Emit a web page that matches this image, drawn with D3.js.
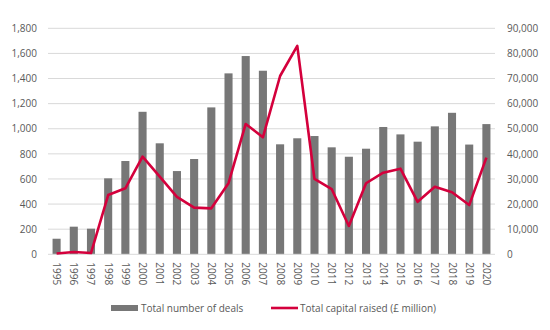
<!DOCTYPE html>
<html>
<head>
<meta charset="utf-8">
<script src="https://cdn.jsdelivr.net/npm/d3@7"></script>
<style>
  body { margin: 0; background: #fff; }
  text { font-family: "Open Sans", sans-serif; fill: #595959; }
</style>
</head>
<body>
<svg id="chart"></svg>
<script>
// deals per year and capital raised
var years = ["1995", "1996", "1997", "1998", "1999", "2000", "2001", "2002", "2003",
    "2004", "2005", "2006", "2007", "2008", "2009", "2010", "2011", "2012", "2013",
    "2014", "2015", "2016", "2017", "2018", "2019", "2020"];
var deals = [124, 220, 204, 605, 743, 1135, 884, 663, 759, 1170, 1441, 1579, 1462,
    876, 924, 942, 852, 777, 841, 1014, 955, 897, 1019, 1127, 874, 1037];
var capital = [300, 900, 500, 23600, 26300, 38900, 30900, 22900, 18600, 18300, 28300,
    51900, 46600, 71000, 83000, 30000, 26000, 11300, 28300, 32500, 34100, 20900,
    26900, 24700, 19600, 38500];
var leftTicks = [0, 200, 400, 600, 800, 1000, 1200, 1400, 1600, 1800];
var rightTicks = [0, 10000, 20000, 30000, 40000, 50000, 60000, 70000, 80000, 90000];
var legendLabels = ["Total number of deals", "Total capital raised (\u00a3 million)"];

var svgWidth = 550, svgHeight = 330;
var margin = { top: 28.3, right: 55, bottom: 75.7, left: 48 };
var width = svgWidth - margin.left - margin.right;
var height = svgHeight - margin.top - margin.bottom;

var svg = d3.select("#chart")
    .attr("width", svgWidth)
    .attr("height", svgHeight);

var g = svg.append("g")
    .attr("transform", "translate(" + margin.left + "," + margin.top + ")");

var x = d3.scaleBand().domain(years).range([0, width]).paddingInner(0.53).paddingOuter(0.265);
var yL = d3.scaleLinear().domain([0, 1800]).range([height, 0]);
var yR = d3.scaleLinear().domain([0, 90000]).range([height, 0]);
var fmt = d3.format(",");

// gridlines
g.append("g")
    .selectAll("line")
    .data(leftTicks.slice(1))
    .join("line")
    .attr("x1", 0)
    .attr("x2", width)
    .attr("y1", d => yL(d))
    .attr("y2", d => yL(d))
    .attr("stroke", "#d9d9d9")
    .attr("stroke-width", 1);

// left axis
var axL = g.append("g")
    .call(d3.axisLeft(yL).tickValues(leftTicks).tickFormat(fmt).tickSize(0).tickPadding(11));
axL.select(".domain").remove();
axL.selectAll("text").attr("font-size", 10).style("font-family", "Open Sans");

// right axis
var axR = g.append("g")
    .attr("transform", "translate(" + width + ",0)")
    .call(d3.axisRight(yR).tickValues(rightTicks).tickFormat(fmt).tickSize(0).tickPadding(12));
axR.select(".domain").remove();
axR.selectAll("text").attr("font-size", 10).style("font-family", "Open Sans");

// bars
g.append("g")
    .selectAll("rect")
    .data(deals)
    .join("rect")
    .attr("x", (d, i) => x(years[i]))
    .attr("y", d => yL(d))
    .attr("width", x.bandwidth())
    .attr("height", d => height - yL(d))
    .attr("fill", "#777777");

// baseline
g.append("line")
    .attr("x1", 0)
    .attr("x2", width)
    .attr("y1", height)
    .attr("y2", height)
    .attr("stroke", "#d9d9d9")
    .attr("stroke-width", 1);

// capital line
var line = d3.line()
    .x((d, i) => x(years[i]) + x.bandwidth() / 2)
    .y(d => yR(d));

g.append("path")
    .datum(capital)
    .attr("fill", "none")
    .attr("stroke", "#d4003c")
    .attr("stroke-width", 2.6)
    .attr("stroke-linejoin", "round")
    .attr("d", line);

// year labels, rotated
var axX = g.append("g")
    .attr("transform", "translate(0," + height + ")")
    .call(d3.axisBottom(x).tickSize(0).tickPadding(0));
axX.select(".domain").remove();
axX.selectAll("text")
    .attr("font-size", 10)
    .style("font-family", "Open Sans")
    .attr("text-anchor", "start")
    .attr("transform", "translate(0,8) rotate(90)")
    .attr("x", 0)
    .attr("y", 0)
    .attr("dy", "0.35em");

// legend
var legend = svg.append("g").attr("transform", "translate(0,308)");
legend.append("rect")
    .attr("x", 111).attr("y", -3)
    .attr("width", 27).attr("height", 6)
    .attr("fill", "#777777");
legend.append("text")
    .attr("x", 141).attr("y", 0).attr("dy", "0.35em")
    .attr("font-size", 10)
    .text(legendLabels[0]);
legend.append("line")
    .attr("x1", 271).attr("x2", 298)
    .attr("y1", 0).attr("y2", 0)
    .attr("stroke", "#d4003c")
    .attr("stroke-width", 2.6);
legend.append("text")
    .attr("x", 300).attr("y", 0).attr("dy", "0.35em")
    .attr("font-size", 10)
    .text(legendLabels[1]);
</script>
</body>
</html>
